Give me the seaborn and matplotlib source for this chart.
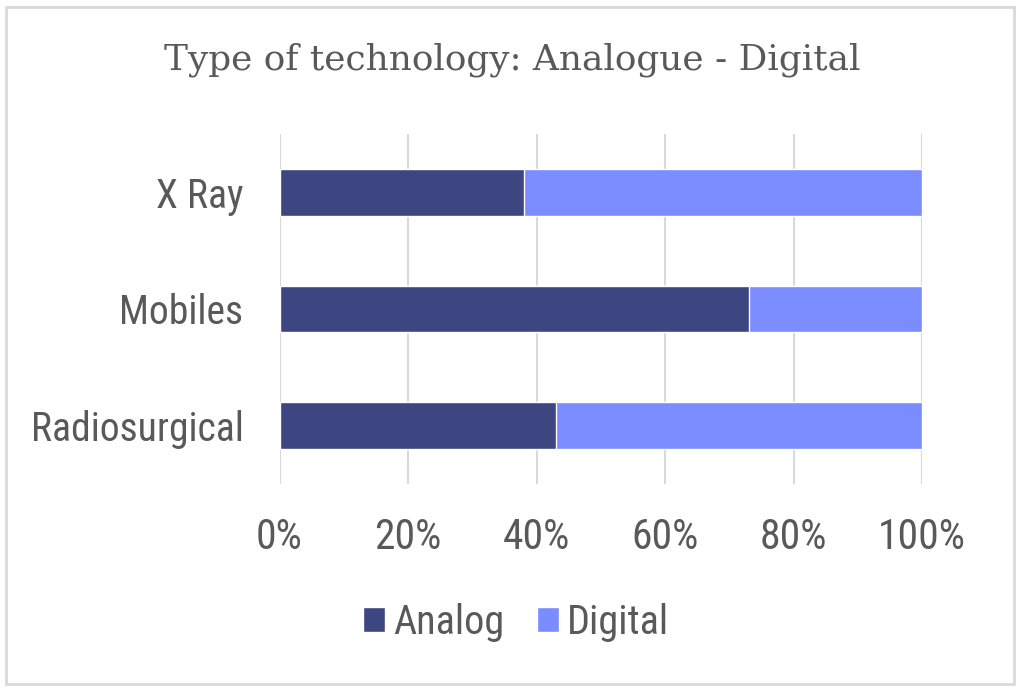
import matplotlib
matplotlib.use('Agg')
import matplotlib.pyplot as plt
from matplotlib.patches import Patch, Rectangle
from matplotlib.ticker import PercentFormatter
import pandas as pd
import seaborn as sns

# Data (share of each type, in %)
categories = ['X Ray', 'Mobiles', 'Radiosurgical']
analog = [38, 73, 43]
digital = [62, 27, 57]
x_ticks = [0, 20, 40, 60, 80, 100]

ANALOG_COLOR = '#3d4680'
DIGITAL_COLOR = '#7b8cff'
TEXT_COLOR = '#595959'

sns.set_style('white')
plt.rcParams['font.family'] = ['Roboto Condensed', 'Roboto', 'DejaVu Sans']

df = pd.DataFrame({'type': categories, 'analog': analog, 'digital': digital})
df['total'] = df['analog'] + df['digital']

fig = plt.figure(figsize=(10.24, 6.92), dpi=100)
ax = fig.add_axes([0.273, 0.3006, 0.6274, 0.5058])

# stacked: full bar in digital colour, analog part over it
sns.barplot(data=df, x='total', y='type', color=DIGITAL_COLOR, width=0.4,
            saturation=1, ax=ax, zorder=3)
sns.barplot(data=df, x='analog', y='type', color=ANALOG_COLOR, width=0.4,
            saturation=1, ax=ax, zorder=4)

ax.set_xlim(0, 100)
ax.set_ylim(2.5, -0.5)
ax.set_xticks(x_ticks)
ax.xaxis.set_major_formatter(PercentFormatter(decimals=0))
ax.grid(axis='x', color='#d9d9d9', linewidth=1.5, zorder=0)
ax.set_axisbelow(True)
for s in ax.spines.values():
    s.set_visible(False)
ax.set_xlabel('')
ax.set_ylabel('')
ax.tick_params(axis='both', length=0, labelcolor=TEXT_COLOR)
ax.tick_params(axis='x', pad=24, labelsize=30)
ax.tick_params(axis='y', pad=26, labelsize=28.5)

fig.text(0.5, 0.913, 'Type of technology: Analogue - Digital', ha='center', va='center',
         fontsize=25.8, color=TEXT_COLOR, family=['DejaVu Serif'])

handles = [Patch(facecolor=ANALOG_COLOR, label='Analog'),
           Patch(facecolor=DIGITAL_COLOR, label='Digital')]
fig.legend(handles=handles, loc='center', bbox_to_anchor=(0.504, 0.101), ncol=2,
           frameon=False, fontsize=29, labelcolor=TEXT_COLOR, handlelength=0.55,
           handleheight=0.6, handletextpad=0.2, columnspacing=0.8)

# light grey frame around the whole picture
fig.patches.append(Rectangle((0.006, 0.012), 0.984, 0.978, transform=fig.transFigure,
                             fill=False, edgecolor='#d9d9d9', linewidth=2))

fig.savefig('out.png', dpi=100)
